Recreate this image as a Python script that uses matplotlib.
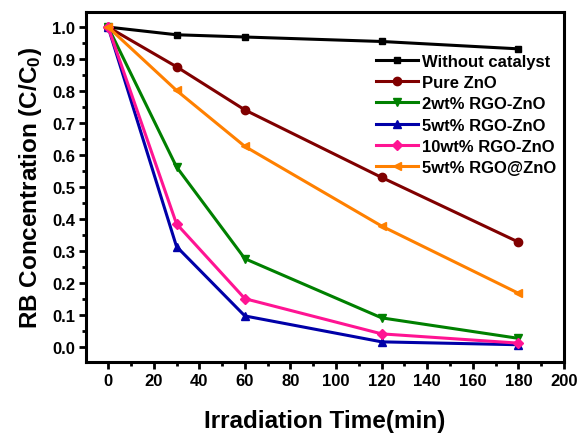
import matplotlib
matplotlib.use("Agg")
import matplotlib.pyplot as plt
from matplotlib.ticker import MultipleLocator

plt.rcParams['font.family'] = ['Liberation Sans', 'DejaVu Sans']
plt.rcParams['font.weight'] = 'bold'
plt.rcParams['mathtext.fontset'] = 'custom'
plt.rcParams['mathtext.rm'] = 'Liberation Sans:bold'
plt.rcParams['mathtext.bf'] = 'Liberation Sans:bold'
plt.rcParams['mathtext.default'] = 'bf'

time = [0, 30, 60, 120, 180]
without_catalyst = [1.0, 0.976, 0.969, 0.955, 0.932]
pure_zno = [1.0, 0.876, 0.741, 0.53, 0.328]
rgo2 = [1.0, 0.563, 0.276, 0.091, 0.027]
rgo5 = [1.0, 0.314, 0.097, 0.016, 0.007]
rgo10 = [1.0, 0.385, 0.151, 0.041, 0.012]
rgo5_at = [1.0, 0.802, 0.627, 0.378, 0.168]

series = [
    ("Without catalyst", without_catalyst, "black", "s"),
    ("Pure ZnO", pure_zno, "#800000", "o"),
    ("2wt% RGO-ZnO", rgo2, "#008000", "v"),
    ("5wt% RGO-ZnO", rgo5, "#0000A8", "^"),
    ("10wt% RGO-ZnO", rgo10, "#FF1493", "D"),
    ("5wt% RGO@ZnO", rgo5_at, "#FF8000", "<"),
]

fig = plt.figure(figsize=(5.82, 4.35), dpi=100)
ax = fig.add_axes([0.1478, 0.1655, 0.8212, 0.8045])

for label, vals, color, marker in series:
    ms = 5 if marker in ("D", "s") else 6
    ax.plot(time, vals, color=color, marker=marker, markersize=ms, linewidth=2.2,
            label=label)

ax.set_xlim(-9.7, 200)
ax.set_ylim(-0.047, 1.047)
ax.xaxis.set_major_locator(MultipleLocator(20))
ax.xaxis.set_minor_locator(MultipleLocator(10))
ax.yaxis.set_major_locator(MultipleLocator(0.1))
ax.yaxis.set_minor_locator(MultipleLocator(0.05))
ax.yaxis.set_major_formatter(matplotlib.ticker.FormatStrFormatter('%.1f'))

for s in ax.spines.values():
    s.set_linewidth(2.2)
ax.tick_params(which='major', direction='out', length=5, width=2, labelsize=12, pad=3)
ax.tick_params(which='minor', direction='out', length=3, width=2)
for lbl in ax.get_xticklabels() + ax.get_yticklabels():
    lbl.set_fontweight('bold')

ax.set_xlabel("Irradiation Time(min)", fontsize=17.5, fontweight='bold', labelpad=15)
ax.set_ylabel(r"RB Concentration (C/C$_{0}$)", fontsize=17.5, fontweight='bold', labelpad=6)

leg = ax.legend(loc='upper right', bbox_to_anchor=(1.005, 0.91), frameon=False,
                prop={'size': 12, 'weight': 'bold'}, handlelength=2.5,
                handletextpad=0.25, labelspacing=0.38, borderaxespad=0.2)

fig.savefig("out.png", dpi=100)
